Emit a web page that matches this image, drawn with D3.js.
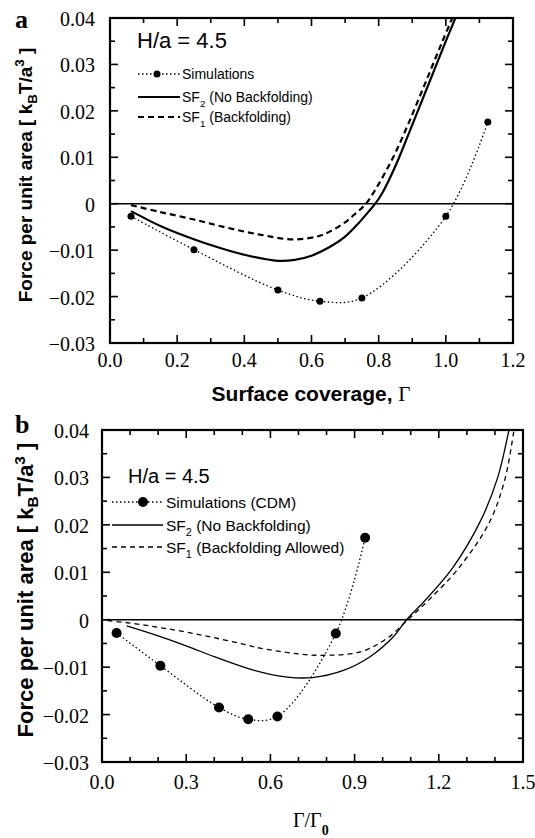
<!DOCTYPE html>
<html><head><meta charset="utf-8">
<script src="https://cdn.jsdelivr.net/npm/d3@7"></script>
<style>body{margin:0;background:#fff}svg{display:block}</style>
</head><body>
<script>
// ---------- DATA ----------
// Panel a (x = surface coverage Γ)
const simA_x = [0.0625, 0.25, 0.5, 0.625, 0.75, 1.0, 1.125];
const simA_y = [-0.0027, -0.0099, -0.0186, -0.0210, -0.0203, -0.0027, 0.0176];
const sf2A_x = [0.0625, 0.15, 0.2, 0.3, 0.4, 0.5, 0.55, 0.6, 0.65, 0.7, 0.74, 0.77, 0.79, 0.81, 0.83, 0.86, 0.90, 0.95, 1.0, 1.04];
const sf2A_y = [-0.0016, -0.0048, -0.0063, -0.0089, -0.0110, -0.0123, -0.0121, -0.0112, -0.0095, -0.0071, -0.0042, -0.0017, 0.0, 0.0022, 0.0050, 0.0098, 0.0170, 0.0260, 0.0350, 0.0420];
const sf1A_x = [0.0625, 0.15, 0.25, 0.35, 0.45, 0.545, 0.62, 0.66, 0.70, 0.73, 0.762, 0.79, 0.82, 0.85, 0.89, 0.94, 0.99, 1.03];
const sf1A_y = [-0.0003, -0.0018, -0.0034, -0.0052, -0.0067, -0.0077, -0.0070, -0.0058, -0.0040, -0.0022, 0.0, 0.0030, 0.0068, 0.0110, 0.0175, 0.0262, 0.0350, 0.0418];
const xTicksA = [0.0, 0.2, 0.4, 0.6, 0.8, 1.0, 1.2];
const xTickLabelsA = ["0.0", "0.2", "0.4", "0.6", "0.8", "1.0", "1.2"];

// Panel b (x = Γ/Γ0)
const simB_x = [0.052, 0.208, 0.417, 0.521, 0.625, 0.833, 0.9375];
const simB_y = [-0.0028, -0.0097, -0.0185, -0.0210, -0.0204, -0.0029, 0.0173];
const sf2B_x = [0.088, 0.2, 0.3, 0.4, 0.5, 0.563, 0.66, 0.75, 0.86, 0.955, 1.038, 1.085, 1.15, 1.25, 1.35, 1.41, 1.45, 1.465];
const sf2B_y = [-0.0013, -0.0034, -0.0055, -0.0078, -0.0099, -0.0110, -0.0121, -0.0122, -0.0107, -0.0078, -0.0036, 0.0, 0.0040, 0.0110, 0.0210, 0.0300, 0.0400, 0.0445];
const sf1B_x = [0.02, 0.1, 0.2, 0.3, 0.4, 0.5, 0.563, 0.7, 0.777, 0.919, 1.014, 1.09, 1.17, 1.27, 1.38, 1.435, 1.468, 1.48];
const sf1B_y = [-0.0002, -0.0007, -0.0016, -0.0026, -0.0038, -0.0051, -0.0060, -0.0072, -0.0075, -0.0068, -0.0040, 0.0, 0.0045, 0.0108, 0.0205, 0.0295, 0.0400, 0.0445];
const xTicksB = [0.0, 0.3, 0.6, 0.9, 1.2, 1.5];
const xTickLabelsB = ["0.0", "0.3", "0.6", "0.9", "1.2", "1.5"];

// Shared y axis
const yTicks = [0.04, 0.03, 0.02, 0.01, 0, -0.01, -0.02, -0.03];
const yTickLabels = ["0.04", "0.03", "0.02", "0.01", "0", "\u22120.01", "\u22120.02", "\u22120.03"];

// ---------- DRAW ----------
const W = 535, H = 838;
const svg = d3.select("body").append("svg").attr("width", W).attr("height", H);
const SERIF = "'Liberation Serif','Times New Roman',serif";
const SANS = "'Liberation Sans',Arial,Helvetica,sans-serif";

function drawPanel(o) {
  const x = d3.scaleLinear().domain(o.xDomain).range([o.left, o.right]);
  const y = d3.scaleLinear().domain([-0.03, 0.04]).range([o.bottom, o.top]);
  const g = svg.append("g");
  const clipId = "clip" + o.id;
  svg.append("clipPath").attr("id", clipId).append("rect")
    .attr("x", o.left).attr("y", o.top).attr("width", o.right - o.left).attr("height", o.bottom - o.top);

  // ticks (inward, all 4 sides)
  const xMinor = d3.range(o.xDomain[0], o.xDomain[1] + 1e-9, 0.1);
  const yMinor = d3.range(-0.03, 0.04 + 1e-9, 0.005);
  const isMajorX = v => o.xMajor.some(m => Math.abs(m - v) < 1e-6);
  const isMajorY = v => yTicks.some(m => Math.abs(m - v) < 1e-6);
  const tk = g.append("g").attr("stroke", "#000").attr("stroke-width", 1.6);
  xMinor.forEach(v => {
    const L = isMajorX(v) ? 8 : 5;
    tk.append("line").attr("x1", x(v)).attr("x2", x(v)).attr("y1", o.bottom).attr("y2", o.bottom - L);
    tk.append("line").attr("x1", x(v)).attr("x2", x(v)).attr("y1", o.top).attr("y2", o.top + L);
  });
  yMinor.forEach(v => {
    const L = isMajorY(v) ? 8 : 5;
    tk.append("line").attr("y1", y(v)).attr("y2", y(v)).attr("x1", o.left).attr("x2", o.left + L);
    tk.append("line").attr("y1", y(v)).attr("y2", y(v)).attr("x1", o.right).attr("x2", o.right - L);
  });

  // frame
  g.append("rect").attr("x", o.left).attr("y", o.top).attr("width", o.right - o.left).attr("height", o.bottom - o.top)
    .attr("fill", "none").attr("stroke", "#000").attr("stroke-width", 2.2);

  // zero line
  g.append("line").attr("x1", o.left).attr("x2", o.right).attr("y1", y(0)).attr("y2", y(0))
    .attr("stroke", "#000").attr("stroke-width", 1.5);

  // tick labels
  o.xMajor.forEach((v, i) => {
    g.append("text").attr("x", x(v)).attr("y", o.xLabelY).attr("text-anchor", "middle")
      .attr("font-family", SERIF).attr("font-size", 20).text(o.xLabels[i]);
  });
  yTicks.forEach((v, i) => {
    g.append("text").attr("x", o.yLabelX).attr("y", y(v) + 8).attr("text-anchor", "end")
      .attr("font-family", SERIF).attr("font-size", 20).text(yTickLabels[i]);
  });

  const line = d3.line().x(d => x(d[0])).y(d => y(d[1])).curve(d3.curveCatmullRom.alpha(0.5));
  const plot = g.append("g").attr("clip-path", `url(#${clipId})`);
  const z = (xs, ys) => xs.map((v, i) => [v, ys[i]]);

  plot.append("path").attr("d", line(z(o.sf1x, o.sf1y))).attr("fill", "none").attr("stroke", "#000")
    .attr("stroke-width", o.lw).attr("stroke-dasharray", o.dash);
  plot.append("path").attr("d", line(z(o.sf2x, o.sf2y))).attr("fill", "none").attr("stroke", "#000")
    .attr("stroke-width", o.lw);
  plot.append("path").attr("d", line(z(o.simx, o.simy))).attr("fill", "none").attr("stroke", "#000")
    .attr("stroke-width", 1.3).attr("stroke-dasharray", "1.5,2.5");
  plot.selectAll("circle.sim").data(z(o.simx, o.simy)).enter().append("circle")
    .attr("cx", d => x(d[0])).attr("cy", d => y(d[1])).attr("r", o.r).attr("fill", "#000");

  // legend
  const L = o.leg;
  g.append("text").attr("x", L.hx).attr("y", L.hy).attr("font-family", SANS).attr("font-size", L.hs).text("H/a = 4.5");
  const rows = L.rows;
  g.append("line").attr("x1", L.x1).attr("x2", L.x2).attr("y1", rows[0]).attr("y2", rows[0])
    .attr("stroke", "#000").attr("stroke-width", 1.3).attr("stroke-dasharray", "1.5,2.5");
  g.append("circle").attr("cx", L.dot).attr("cy", rows[0]).attr("r", o.r).attr("fill", "#000");
  g.append("line").attr("x1", L.x1).attr("x2", L.x2).attr("y1", rows[1]).attr("y2", rows[1])
    .attr("stroke", "#000").attr("stroke-width", o.lw);
  g.append("line").attr("x1", L.x1).attr("x2", L.x2).attr("y1", rows[2]).attr("y2", rows[2])
    .attr("stroke", "#000").attr("stroke-width", o.lw).attr("stroke-dasharray", o.dash);
  g.append("text").attr("x", L.tx).attr("y", rows[0] + L.fs * 0.36).attr("font-family", SANS)
    .attr("font-size", L.fs).text(L.simLabel);
  [[1, "2", L.sf2Label], [2, "1", L.sf1Label]].forEach(([r, sub, rest]) => {
    const t = g.append("text").attr("x", L.tx).attr("y", rows[r] + L.fs * 0.36).attr("font-family", SANS).attr("font-size", L.fs);
    t.append("tspan").text("SF");
    t.append("tspan").attr("dy", 5).attr("font-size", L.fs * 0.7).text(sub);
    t.append("tspan").attr("dy", -5).text(" " + rest);
  });

  // panel letter
  g.append("text").attr("x", 15).attr("y", o.letterY).attr("font-family", SERIF).attr("font-weight", "bold")
    .attr("font-size", 26).text(o.id);

  // y title
  const yt = g.append("text").attr("transform", `translate(${o.ytX},${o.ytY}) rotate(-90)`)
    .attr("text-anchor", "middle").attr("font-family", SANS).attr("font-weight", "bold").attr("font-size", o.ytFs);
  yt.append("tspan").text("Force per unit area [ k");
  yt.append("tspan").attr("dy", 5).attr("font-size", o.ytFs * 0.7).text("B");
  yt.append("tspan").attr("dy", -5).text("T/a");
  yt.append("tspan").attr("dy", -8).attr("font-size", o.ytFs * 0.7).text("3");
  yt.append("tspan").attr("dy", 8).text(" ]");

  o.xTitle(g);
}

drawPanel({
  id: "a", left: 110, right: 513, top: 18, bottom: 343, xDomain: [0, 1.2], xMajor: xTicksA, xLabels: xTickLabelsA,
  xLabelY: 367, yLabelX: 95, lw: 2.2, dash: "6,4", r: 3.5,
  simx: simA_x, simy: simA_y, sf2x: sf2A_x, sf2y: sf2A_y, sf1x: sf1A_x, sf1y: sf1A_y,
  leg: { hx: 137, hy: 48, hs: 22, rows: [74, 97, 117], x1: 138, x2: 180, dot: 157, tx: 182, fs: 14,
         simLabel: "Simulations", sf2Label: "(No Backfolding)", sf1Label: "(Backfolding)" },
  letterY: 28, ytX: 32, ytY: 175, ytFs: 19,
  xTitle: g => {
    const t = g.append("text").attr("x", 311).attr("y", 401).attr("text-anchor", "middle")
      .attr("font-family", SANS).attr("font-weight", "bold").attr("font-size", 21);
    t.append("tspan").text("Surface coverage, ");
    t.append("tspan").attr("font-family", SERIF).attr("font-weight", "normal").text("\u0393");
  }
});

drawPanel({
  id: "b", left: 102, right: 523, top: 430, bottom: 762, xDomain: [0, 1.5], xMajor: xTicksB, xLabels: xTickLabelsB,
  xLabelY: 789, yLabelX: 89, lw: 1.3, dash: "5,4", r: 5,
  simx: simB_x, simy: simB_y, sf2x: sf2B_x, sf2y: sf2B_y, sf1x: sf1B_x, sf1y: sf1B_y,
  leg: { hx: 128, hy: 483, hs: 20, rows: [502, 525, 547], x1: 112, x2: 163, dot: 143, tx: 166, fs: 15.5,
         simLabel: "Simulations (CDM)", sf2Label: "(No Backfolding)", sf1Label: "(Backfolding Allowed)" },
  letterY: 433, ytX: 33, ytY: 590, ytFs: 22,
  xTitle: g => {
    const t = g.append("text").attr("x", 293).attr("y", 827).attr("font-family", SERIF).attr("font-size", 20);
    t.append("tspan").text("\u0393/\u0393");
    t.append("tspan").attr("dy", 8).attr("font-size", 14).attr("font-weight", "bold").text("0");
  }
});
</script>
</body></html>
